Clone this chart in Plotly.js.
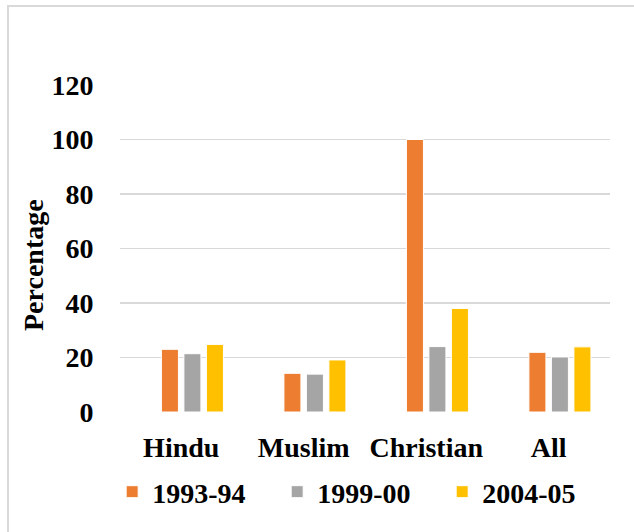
<!DOCTYPE html>
<html>
<head>
<meta charset="utf-8">
<script src="https://cdn.plot.ly/plotly-3.0.1.min.js"></script>
<style>
  html, body { margin: 0; padding: 0; background: #fff; }
  #wrap { position: relative; width: 634px; height: 532px; overflow: hidden; }
  #chart { position: absolute; left: 0; top: 0; width: 634px; height: 532px; }
  #frame { position: absolute; left: 7px; top: 5px; width: 700px; height: 600px;
           border-left: 2px solid #d9d9d9; border-top: 2px solid #d9d9d9; pointer-events: none; }
</style>
</head>
<body>
<div id="wrap">
  <div id="chart"></div>
  <div id="frame"></div>
</div>
<script>
const categories = ["Hindu", "Muslim", "Christian", "All"];
const seriesNames = ["1993-94", "1999-00", "2004-05"];
const values1993 = [23.0, 14.2, 100.0, 21.9];
const values1999 = [21.4, 13.9, 24.0, 20.2];
const values2004 = [24.8, 19.1, 38.0, 23.9];
const yTicks = [0, 20, 40, 60, 80, 100, 120];
const yTitle = "Percentage";

const colors = ["#ED7D31", "#A5A5A5", "#FFC000"];
const barOffsets = [-0.162, 0.0216, 0.2053];
const barWidth = 0.139;
const fontFam = "'Liberation Serif', 'Times New Roman', serif";
const boldFont = { family: fontFam, size: 28, color: "#000000", weight: "bold" };

const seriesValues = [values1993, values1999, values2004];
const data = seriesValues.map((v, i) => ({
  type: "bar",
  name: seriesNames[i],
  x: categories,
  y: v,
  offset: barOffsets[i],
  width: barWidth,
  marker: { color: colors[i], line: { color: "#ffffff", width: 1 } },
  hoverinfo: "none"
}));

const layout = {
  width: 634,
  height: 532,
  paper_bgcolor: "#ffffff",
  plot_bgcolor: "#ffffff",
  margin: { l: 120, r: 24, t: 85, b: 120, autoexpand: false },
  barmode: "overlay",
  font: boldFont,
  xaxis: {
    type: "category",
    automargin: false,
    range: [-0.5, 3.5],
    showgrid: false,
    showline: false,
    zeroline: false,
    ticks: "outside",
    ticklen: 10,
    tickcolor: "rgba(0,0,0,0)",
    tickfont: boldFont
  },
  yaxis: {
    automargin: false,
    range: [0, 120],
    tickvals: yTicks,
    ticktext: yTicks.map(String),
    showgrid: true,
    gridcolor: "#d9d9d9",
    gridwidth: 1.5,
    zeroline: false,
    showline: false,
    ticks: "outside",
    ticklen: 20,
    tickcolor: "rgba(0,0,0,0)",
    tickfont: boldFont
  },
  annotations: [{
    text: yTitle,
    xref: "paper", yref: "paper",
    x: -0.1776, y: 0.4495,
    xanchor: "center", yanchor: "middle",
    textangle: -90,
    showarrow: false,
    font: boldFont
  }],
  showlegend: true,
  legend: {
    orientation: "h",
    x: -0.016,
    xanchor: "left",
    xref: "paper",
    y: -0.2446,
    yanchor: "middle",
    yref: "paper",
    entrywidth: 120,
    entrywidthmode: "pixels",
    font: boldFont,
    bgcolor: "rgba(0,0,0,0)"
  }
};

Plotly.newPlot("chart", data, layout, { staticPlot: true, displayModeBar: false });
</script>
</body>
</html>
